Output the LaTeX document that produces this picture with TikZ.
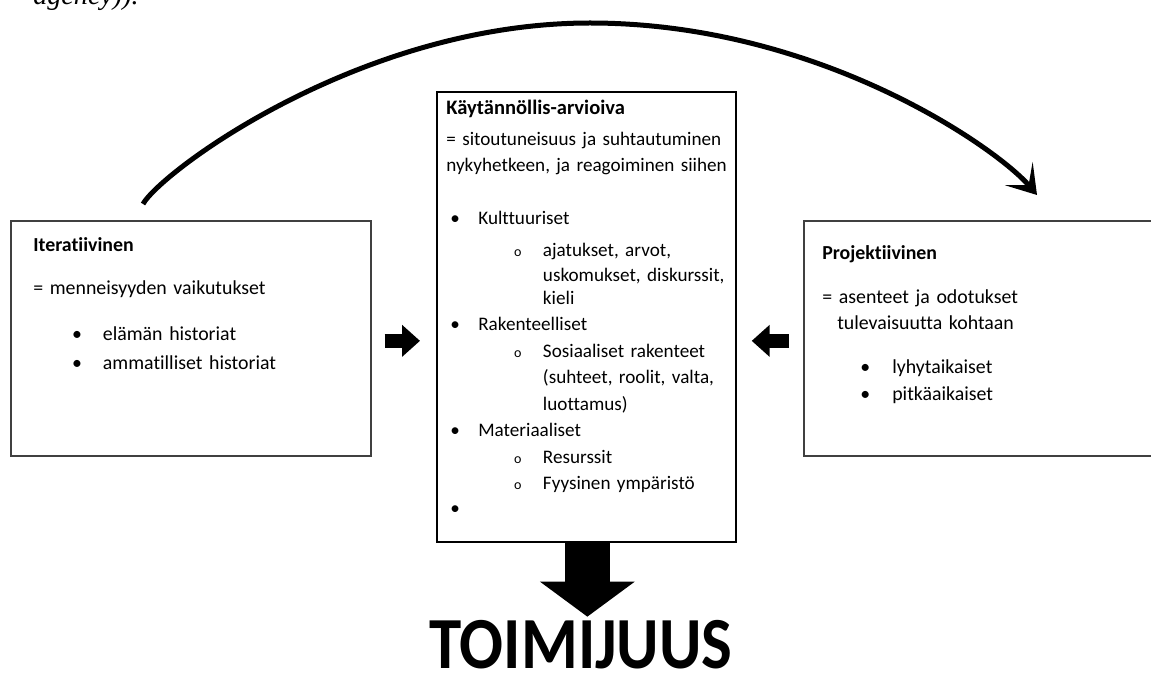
\documentclass[tikz,border=0pt]{standalone}
\usepackage{fontspec}
\setmainfont{Carlito}[Ligatures=NoCommon]
\newfontfamily\pagefont{Liberation Serif}
\usetikzlibrary{positioning,arrows.meta,calc}

% list lines: bullet and sub-bullet
\newcommand{\itemdot}[3]{\hspace*{#1}\makebox[#2][l]{\textbullet}#3}
\newcommand{\itemring}[1]{\hspace*{38.5pt}\makebox[16.5pt][l]{\fontsize{8}{8}\selectfont o}#1}

\begin{document}
\begin{tikzpicture}[x=0.02cm, y=-0.02cm, font=\fontsize{11.3}{15.1}\selectfont,
  box/.style={draw=black!75, line width=1pt, anchor=north west, inner sep=0pt},
  txt/.style={anchor=base west, inner sep=0pt, text width=#1, align=left},
  blockarr/.style={draw=black, line width=0.28cm, -{Triangle[length=0.36cm, width=0.62cm]}},
  bigarr/.style={draw=black, line width=0.9cm, -{Triangle[length=0.7cm, width=1.86cm]}},
  curvearr/.style={draw=black, line width=0.1cm, -{Stealth[length=0.56cm, width=0.72cm, inset=0.3cm]}}]
\useasboundingbox (0,0) rectangle (1151,675);

\node[anchor=base west, inner sep=0pt, font=\pagefont\itshape\fontsize{16}{18}\selectfont] (pagetail) at (33,5) {agency)).};

% the three boxes
\node[box, minimum width=7.2cm, minimum height=4.7cm] (iter) at (10,220) {};
\node[box, draw=black, minimum width=5.98cm, minimum height=9cm] (prac) at (436,91) {};
\node[box, minimum width=7.4cm, minimum height=4.7cm] (proj) at (803,220) {};

\node[txt=6.5cm] (itertxt) at (33,252) {\textbf{Iteratiivinen}\\[9pt]
  = menneisyyden vaikutukset\\[11pt]
  \itemdot{22pt}{17.6pt}{elämän historiat}\\[1.5pt]
  \itemdot{22pt}{17.6pt}{ammatilliset historiat}};

\node[txt=7cm, font=\fontsize{10.9}{15.1}\selectfont] (practxt) at (446,115)
  {{\fontsize{11.7}{15.1}\selectfont\textbf{Käytännöllis-arvioiva}}\\[2pt]
  = sitoutuneisuus ja suhtautuminen\\
  nykyhetkeen, ja reagoiminen siihen\\[15pt]
  \itemdot{2.3pt}{15.9pt}{Kulttuuriset}\\[3pt]
  \itemring{ajatukset, arvot,}\\[-1pt]
  \hspace*{55pt}uskomukset, diskurssit,\\[-2pt]
  \hspace*{55pt}kieli\\
  \itemdot{2.3pt}{15.9pt}{Rakenteelliset}\\
  \itemring{Sosiaaliset rakenteet}\\
  \hspace*{55pt}(suhteet, roolit, valta,\\
  \hspace*{55pt}luottamus)\\
  \itemdot{2.3pt}{15.9pt}{Materiaaliset}\\
  \itemring{Resurssit}\\
  \itemring{Fyysinen ympäristö}\\[-1pt]
  \itemdot{2.3pt}{15.9pt}{}};

\node[txt=6.5cm] (projtxt) at (822,259) {\textbf{Projektiivinen}\\[10pt]
  = asenteet ja odotukset\\
  \hspace*{8.5pt}tulevaisuutta kohtaan\\[10pt]
  \itemdot{21.6pt}{18.2pt}{lyhytaikaiset}\\
  \itemdot{21.6pt}{18.2pt}{pitkäaikaiset}};

\node[anchor=base, inner sep=0pt, text depth=0pt] (agency) at (581,668)
  {\scalebox{1}[1.13]{\fontsize{37}{40}\selectfont\bfseries TOIMIJUUS}};

% arrows
\draw[blockarr] ($(iter.east)+(13,2.5)$) -- ($(prac.west |- iter.east)+(-16,2.5)$);
\draw[blockarr] ($(proj.west)+(-14,2.5)$) -- ($(prac.east |- proj.west)+(15,2.5)$);
\draw[bigarr] ($(prac.south)+(1,0)$) -- ($(prac.south)+(1,74)$);

\coordinate (apex) at (590,23);
\draw[curvearr] ($(iter.north west)+(133,-16)$) .. controls +(18,-32) and +(-230,0) .. (apex)
  .. controls +(230,0) and +(-39,-46) .. ($(proj.north west)+(234,-25)$);
\end{tikzpicture}
\end{document}
